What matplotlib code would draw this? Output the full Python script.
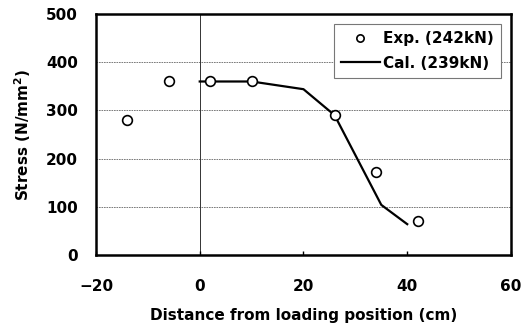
import matplotlib
matplotlib.use("Agg")
import matplotlib.pyplot as plt

# measured stress along the bar
exp_x = [-14, -6, 2, 10, 26, 34, 42]
exp_y = [280, 360, 360, 360, 290, 173, 71]

# calculated distribution
cal_x = [0, 10, 20, 26, 35, 40]
cal_y = [360, 360, 344, 290, 104, 64]

x_ticks = [-20, 0, 20, 40, 60]
y_ticks = [0, 100, 200, 300, 400, 500]

plt.rcParams["font.family"] = "DejaVu Sans"
plt.rcParams["font.weight"] = "bold"

fig = plt.figure(figsize=(5.30, 3.32), dpi=100)
fig.patch.set_facecolor("white")
ax = fig.add_axes([0.1811, 0.2319, 0.7830, 0.7259])

ax.set_xlim(-20, 60)
ax.set_ylim(0, 500)
ax.set_xticks(x_ticks)
ax.set_yticks(y_ticks)

for v in y_ticks[1:-1]:
    ax.axhline(v, color="#666666", lw=0.6, ls=(0, (2, 1)), zorder=1)
ax.axvline(0, color="#333333", lw=0.7, zorder=1)

ax.plot(cal_x, cal_y, color="black", lw=1.6, zorder=3, label="Cal. (239kN)")
ax.plot(exp_x, exp_y, ls="none", marker="o", ms=7, mfc="white", mec="black",
        mew=1.2, zorder=4, label="Exp. (242kN)")

for s in ax.spines.values():
    s.set_linewidth(1.8)

ax.tick_params(axis="x", direction="in", length=3, width=1, pad=17, labelsize=11)
ax.tick_params(axis="y", length=0, pad=13, labelsize=11)

ax.set_xlabel("Distance from loading position (cm)", fontsize=11, fontweight="bold", labelpad=10)
ax.set_ylabel("Stress (N/mm$^\\mathbf{2}$)", fontsize=11, fontweight="bold", labelpad=9)

h, l = ax.get_legend_handles_labels()
leg = ax.legend(h[::-1], l[::-1], loc="upper right", bbox_to_anchor=(0.976, 0.9585),
                fontsize=11, frameon=True, fancybox=False, framealpha=1,
                handlelength=2.6, handletextpad=0.2, borderpad=0.45,
                labelspacing=0.65, borderaxespad=0, markerscale=0.75)
leg.get_frame().set_edgecolor("#777777")
leg.get_frame().set_linewidth(0.8)

fig.savefig("out.png", dpi=100, facecolor="white")
